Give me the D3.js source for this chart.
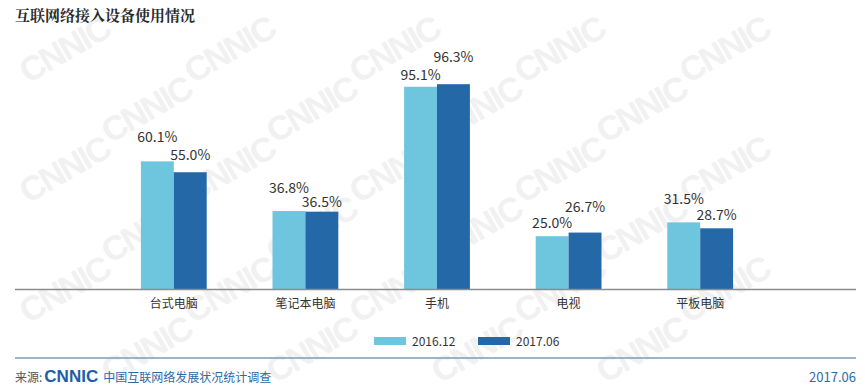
<!DOCTYPE html>
<html>
<head>
<meta charset="utf-8">
<script src="https://cdn.jsdelivr.net/npm/d3@7"></script>
<style>
  body { margin: 0; background: #fff; }
  svg { display: block; font-family: "Noto Sans CJK SC", "Noto Sans", sans-serif; }
</style>
</head>
<body>
<div id="chart"></div>
<script>
// data
const categories = ['台式电脑', '笔记本电脑', '手机', '电视', '平板电脑'];
const seriesNames = ['2016.12', '2017.06'];
const values2016 = [60.1, 36.8, 95.1, 25.0, 31.5];
const values2017 = [55.0, 36.5, 96.3, 26.7, 28.7];
const colors = ['#6dc6de', '#2468a8'];

// the source staggers the two value labels of a group so they don't collide
// (px between bar top and label baseline)
const labelLift2016 = [19, 18, 7, 8, 18];
const labelLift2017 = [12, 5, 22, 21, 8];

const W = 865, H = 390;
const baseY = 289.5;

const svg = d3.select('#chart').append('svg')
  .attr('width', W)
  .attr('height', H);

// faint CNNIC watermark, only copies that fit inside the frame
const wm = svg.append('g').attr('class', 'watermark');
for (let row = 0; row < 6; row++) {
  for (let col = 0; col < 6; col++) {
    const x = col * 165 + (row % 2 ? 82 : 0) + 28;
    const y = row * 60 + 84;
    if (x > W - 115 || y > H - 6) continue;
    wm.append('text')
      .attr('x', x).attr('y', y)
      .attr('transform', `rotate(-30,${x},${y})`)
      .attr('font-size', 34)
      .attr('font-weight', 'bold')
      .attr('letter-spacing', -2)
      .attr('font-family', '"Liberation Sans", Arial, sans-serif')
      .attr('fill', '#f1f1f1')
      .text('CNNIC');
  }
}

// title
svg.append('text')
  .attr('x', 15).attr('y', 21)
  .attr('font-size', 15)
  .attr('font-weight', 'bold')
  .attr('fill', '#2b2b2b')
  .attr('font-family', '"Noto Serif CJK SC", "Noto Sans CJK SC", serif')
  .text('互联网络接入设备使用情况');

const x0 = d3.scaleBand()
  .domain(categories)
  .range([108, 766])
  .paddingInner(0.5)
  .paddingOuter(0.25);

const x1 = d3.scaleBand()
  .domain(seriesNames)
  .range([0, x0.bandwidth()]);

const y = d3.scaleLinear()
  .domain([0, 100])
  .range([baseY, 76.3]);

const rows = categories.map((c, i) => ({
  cat: c,
  vals: [
    { s: seriesNames[0], v: values2016[i], c: colors[0], lift: labelLift2016[i] },
    { s: seriesNames[1], v: values2017[i], c: colors[1], lift: labelLift2017[i] }
  ]
}));

const groups = svg.append('g').selectAll('g')
  .data(rows)
  .join('g')
  .attr('transform', d => `translate(${x0(d.cat)},0)`);

groups.selectAll('rect')
  .data(d => d.vals)
  .join('rect')
  .attr('x', d => x1(d.s))
  .attr('width', x1.bandwidth())
  .attr('y', d => y(d.v))
  .attr('height', d => baseY - y(d.v))
  .attr('fill', d => d.c);

groups.selectAll('text.val')
  .data(d => d.vals)
  .join('text')
  .attr('class', 'val')
  .attr('x', d => x1(d.s) + x1.bandwidth() / 2)
  .attr('y', d => y(d.v) - d.lift)
  .attr('text-anchor', 'middle')
  .attr('font-size', 14)
  .attr('fill', '#333')
  .text(d => d.v.toFixed(1) + '%');

// x axis
const xAxis = svg.append('g')
  .attr('transform', `translate(0,${baseY})`)
  .call(d3.axisBottom(x0).tickSize(0).tickPadding(10));
xAxis.select('.domain').remove();
xAxis.selectAll('text')
  .attr('font-size', 12)
  .attr('fill', '#333')
  .attr('font-family', '"Noto Sans CJK SC", sans-serif');
svg.append('line')
  .attr('x1', 15).attr('x2', 856)
  .attr('y1', baseY).attr('y2', baseY)
  .attr('stroke', '#8c8c8c')
  .attr('stroke-width', 1.5);

// legend
const legend = svg.append('g');
const legendX = [374, 478];
seriesNames.forEach((s, i) => {
  legend.append('rect')
    .attr('x', legendX[i]).attr('y', 337)
    .attr('width', 32).attr('height', 8)
    .attr('fill', colors[i]);
  legend.append('text')
    .attr('x', legendX[i] + 38).attr('y', 346)
    .attr('font-size', 12)
    .attr('fill', '#333')
    .text(s);
});

// footer
svg.append('line')
  .attr('x1', 15).attr('x2', 856)
  .attr('y1', 358).attr('y2', 358)
  .attr('stroke', '#7d9bb6')
  .attr('stroke-width', 1.5);

const foot = svg.append('text')
  .attr('x', 15).attr('y', 382)
  .attr('font-size', 12);
foot.append('tspan').attr('fill', '#555').text('来源:');
foot.append('tspan')
  .attr('fill', '#1d5ea8')
  .attr('font-weight', 'bold')
  .attr('font-size', 17)
  .attr('dx', 2)
  .attr('font-family', '"Liberation Sans", Arial, sans-serif')
  .text('CNNIC');
foot.append('tspan').attr('fill', '#2f6aa6').attr('dx', 5).text('中国互联网络发展状况统计调查');

svg.append('text')
  .attr('x', 856).attr('y', 382)
  .attr('text-anchor', 'end')
  .attr('font-size', 13)
  .attr('fill', '#2f6aa6')
  .text('2017.06');
</script>
</body>
</html>
